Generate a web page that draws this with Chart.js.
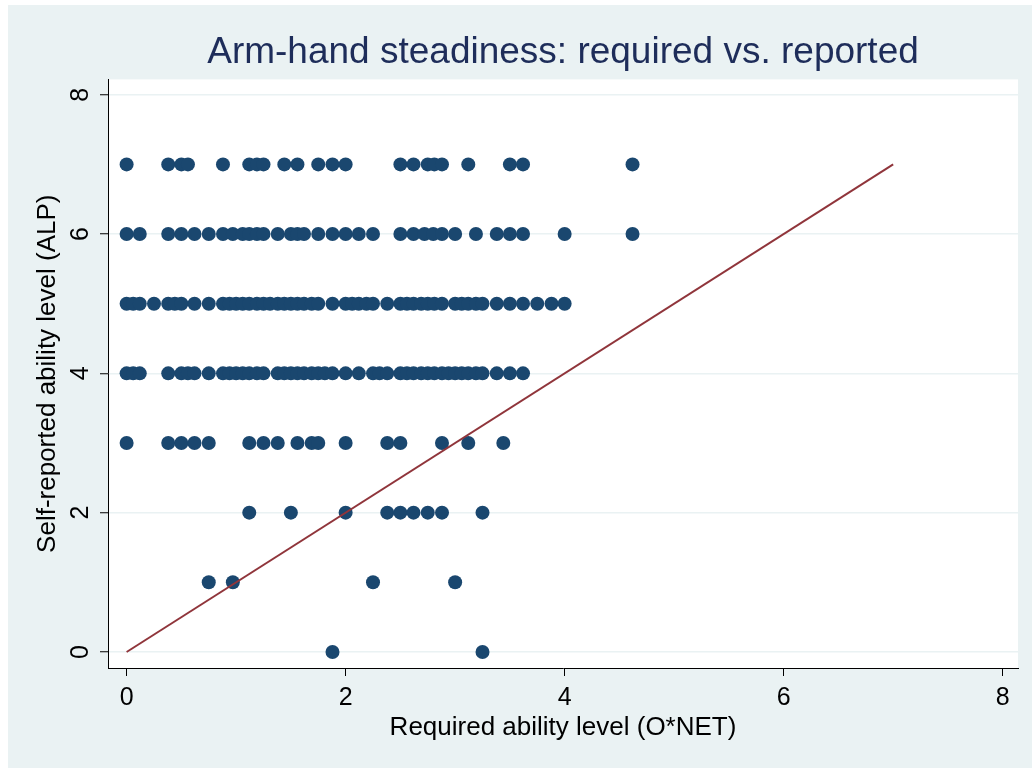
<!DOCTYPE html>
<html>
<head>
<meta charset="utf-8">
<script src="https://cdn.jsdelivr.net/npm/chart.js@4.4.1/dist/chart.umd.min.js"></script>
<style>
  html, body { margin: 0; padding: 0; background: #ffffff; }
  #wrap { width: 1032px; height: 768px; position: relative; }
</style>
</head>
<body>
<div id="wrap"><canvas id="myCanvas"></canvas></div>
<script>
// required ability (O*NET) values, one array per self-reported level
var level7 = [0, 0.38, 0.5, 0.56, 0.88, 1.12, 1.19, 1.25, 1.44, 1.56, 1.75, 1.88, 2.0, 2.5, 2.62, 2.75, 2.81, 2.88, 3.12, 3.5, 3.62, 4.62];
var level6 = [0, 0.12, 0.38, 0.5, 0.62, 0.75, 0.88, 0.97, 1.06, 1.12, 1.19, 1.25, 1.38, 1.5, 1.56, 1.62, 1.75, 1.88, 2.0, 2.12, 2.25, 2.5, 2.62, 2.72, 2.8, 2.88, 3.0, 3.19, 3.38, 3.5, 3.62, 4.0, 4.62];
var level5 = [0, 0.06, 0.12, 0.25, 0.38, 0.44, 0.5, 0.62, 0.75, 0.88, 0.94, 1.0, 1.06, 1.12, 1.19, 1.25, 1.31, 1.38, 1.44, 1.5, 1.56, 1.62, 1.69, 1.75, 1.88, 2.0, 2.06, 2.12, 2.19, 2.25, 2.38, 2.5, 2.56, 2.62, 2.69, 2.75, 2.81, 2.88, 3.0, 3.06, 3.12, 3.19, 3.25, 3.38, 3.5, 3.62, 3.75, 3.88, 4.0];
var level4 = [0, 0.06, 0.12, 0.38, 0.5, 0.56, 0.62, 0.75, 0.88, 0.94, 1.0, 1.06, 1.12, 1.19, 1.25, 1.38, 1.44, 1.5, 1.56, 1.62, 1.69, 1.75, 1.81, 1.88, 2.0, 2.12, 2.25, 2.31, 2.38, 2.5, 2.56, 2.62, 2.69, 2.75, 2.81, 2.88, 2.94, 3.0, 3.06, 3.12, 3.19, 3.25, 3.38, 3.5, 3.62];
var level3 = [0, 0.38, 0.5, 0.62, 0.75, 1.12, 1.25, 1.38, 1.56, 1.69, 1.75, 2.0, 2.38, 2.5, 2.88, 3.12, 3.44];
var level2 = [1.12, 1.5, 2.0, 2.38, 2.5, 2.62, 2.75, 2.88, 3.25];
var level1 = [0.75, 0.97, 2.25, 3.0];
var level0 = [1.88, 3.25];
var rows = [level0, level1, level2, level3, level4, level5, level6, level7];

// 45 degree reference line
var lineX = [0, 7];
var lineY = [0, 7];

var tickVals = [0, 2, 4, 6, 8];

var points = [];
rows.forEach(function(row, lvl){
  row.forEach(function(v){
    points.push({x: v, y: lvl});
  });
});
var linePts = lineX.map(function(v, i){ return {x: v, y: lineY[i]}; });

var bgPlugin = {
  id: 'bg',
  beforeDraw: function(chart){
    var ctx = chart.ctx, a = chart.chartArea;
    ctx.save();
    ctx.fillStyle = '#ffffff';
    ctx.fillRect(0, 0, chart.width, chart.height);
    ctx.fillStyle = '#eaf2f3';
    ctx.fillRect(8, 5, chart.width - 8, chart.height - 5);
    ctx.fillStyle = '#ffffff';
    ctx.fillRect(a.left, a.top, a.right - a.left, a.bottom - a.top);
    ctx.restore();
  }
};

function fixTicks(scale){
  scale.ticks = tickVals.map(function(v){ return {value: v}; });
}

var fontFam = "'Liberation Sans', Arial, sans-serif";

new Chart(document.getElementById('myCanvas'), {
  type: 'scatter',
  data: {
    datasets: [{
      type: 'line',
      data: linePts,
      borderColor: '#90353b',
      borderWidth: 2,
      pointRadius: 0,
      fill: false
    }, {
      data: points,
      backgroundColor: '#1a476f',
      borderColor: '#1a476f',
      borderWidth: 0,
      pointRadius: 7,
      pointHoverRadius: 7
    }]
  },
  options: {
    responsive: true,
    maintainAspectRatio: false,
    animation: false,
    events: [],
    layout: { padding: { left: 20, right: 14, top: 0, bottom: 0 } },
    plugins: {
      legend: { display: false },
      tooltip: { enabled: false },
      title: {
        display: true,
        fullSize: false,
        text: 'Arm-hand steadiness: required vs. reported',
        color: '#1e2d5a',
        font: { family: fontFam, size: 37, weight: 'normal' },
        padding: { top: 31, bottom: 4 }
      }
    },
    scales: {
      x: {
        type: 'linear',
        min: -0.17,
        max: 8.14,
        afterBuildTicks: fixTicks,
        afterFit: function(s){ s.height = 100; },
        border: { color: '#000000', width: 1 },
        grid: { drawOnChartArea: false, drawTicks: true, tickLength: 8, tickColor: '#000000', tickWidth: 1 },
        ticks: { color: '#000000', font: { family: fontFam, size: 25 }, padding: 7, maxRotation: 0 },
        title: {
          display: true,
          text: 'Required ability level (O*NET)',
          color: '#000000',
          font: { family: fontFam, size: 26 },
          padding: { top: 0, bottom: 25 }
        }
      },
      y: {
        type: 'linear',
        min: -0.23,
        max: 8.22,
        afterBuildTicks: fixTicks,
        afterFit: function(s){ s.width = 88; },
        border: { color: '#000000', width: 1 },
        grid: { color: '#eaf2f3', lineWidth: 1.5, drawTicks: true, tickLength: 8, tickColor: '#000000', tickWidth: 1 },
        ticks: { color: '#000000', font: { family: fontFam, size: 25 }, padding: 12, minRotation: 90, maxRotation: 90, crossAlign: 'center' },
        title: {
          display: true,
          text: 'Self-reported ability level (ALP)',
          color: '#000000',
          font: { family: fontFam, size: 26 },
          padding: { top: 12, bottom: 0 }
        }
      }
    }
  },
  plugins: [bgPlugin]
});
</script>
</body>
</html>
